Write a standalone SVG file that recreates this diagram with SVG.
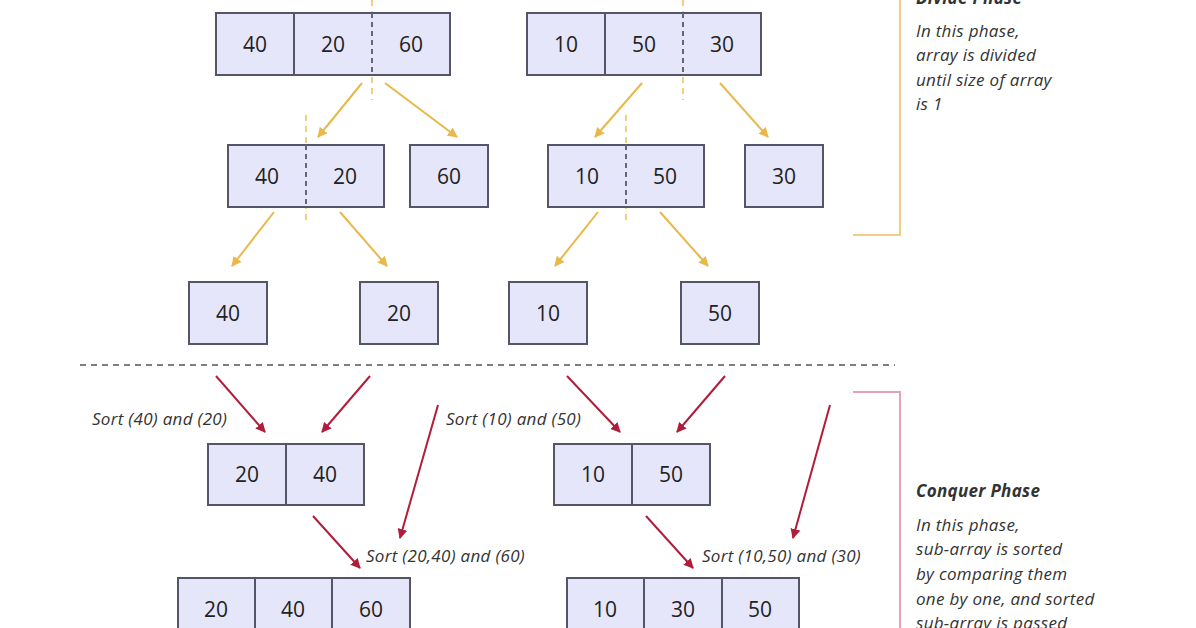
<svg xmlns="http://www.w3.org/2000/svg" width="1196" height="628" viewBox="0 0 1196 628">
<defs>
<style>
.c{fill:#e6e6fa;stroke:#555566;stroke-width:2}
.d{stroke:#555566;stroke-width:2}
.dd{stroke:#666677;stroke-width:2;stroke-dasharray:5,4}
.n{font-family:"Open Sans",sans-serif;font-size:21px;fill:#222;text-anchor:middle}
.y{stroke:#e8b84a;stroke-width:2;fill:none}
.yd{stroke:#f0d080;stroke-width:2;stroke-dasharray:6,5}
.r{stroke:#b01c3a;stroke-width:2;fill:none}
.l{font-family:"Open Sans",sans-serif;font-size:17px;letter-spacing:0.3px;font-style:italic;fill:#333}
.b{font-weight:bold}
</style>
<marker id="ay" viewBox="0 0 10 10" refX="9" refY="5" markerWidth="5" markerHeight="5" orient="auto"><path d="M0,0L10,5L0,10z" fill="#e8b84a"/></marker>
<marker id="ar" viewBox="0 0 10 10" refX="9" refY="5" markerWidth="5" markerHeight="5" orient="auto"><path d="M0,0L10,5L0,10z" fill="#b01c3a"/></marker>
</defs>
<rect width="1196" height="628" fill="#fff"/>
<g id="guides">
<line class="yd" x1="372" y1="0" x2="372" y2="100"/>
<line class="yd" x1="683" y1="0" x2="683" y2="100"/>
<line class="yd" x1="306" y1="115" x2="306" y2="225"/>
<line class="yd" x1="626" y1="115" x2="626" y2="225"/>
<line x1="80" y1="365" x2="895" y2="365" stroke="#555" stroke-width="1.5" stroke-dasharray="6,5"/>
<path d="M900 0V235H853" stroke="#f0d080" stroke-width="2" fill="none"/>
<path d="M853 392H900V628" stroke="#e8a0b8" stroke-width="2" fill="none"/>
</g>
<g id="connectors">
<line class="y" x1="362" y1="83" x2="318" y2="137" marker-end="url(#ay)"/>
<line class="y" x1="385" y1="83" x2="457" y2="137" marker-end="url(#ay)"/>
<line class="y" x1="642" y1="83" x2="595" y2="137" marker-end="url(#ay)"/>
<line class="y" x1="720" y1="83" x2="768" y2="137" marker-end="url(#ay)"/>
<line class="y" x1="274" y1="212" x2="232" y2="266" marker-end="url(#ay)"/>
<line class="y" x1="340" y1="212" x2="387" y2="266" marker-end="url(#ay)"/>
<line class="y" x1="598" y1="212" x2="555" y2="266" marker-end="url(#ay)"/>
<line class="y" x1="660" y1="212" x2="708" y2="266" marker-end="url(#ay)"/>
<line class="r" x1="216" y1="376" x2="265" y2="432" marker-end="url(#ar)"/>
<line class="r" x1="370" y1="376" x2="322" y2="432" marker-end="url(#ar)"/>
<line class="r" x1="567" y1="376" x2="620" y2="432" marker-end="url(#ar)"/>
<line class="r" x1="725" y1="376" x2="677" y2="432" marker-end="url(#ar)"/>
<line class="r" x1="438" y1="405" x2="400" y2="538" marker-end="url(#ar)"/>
<line class="r" x1="313" y1="516" x2="360" y2="568" marker-end="url(#ar)"/>
<line class="r" x1="830" y1="405" x2="793" y2="538" marker-end="url(#ar)"/>
<line class="r" x1="646" y1="516" x2="693" y2="568" marker-end="url(#ar)"/>
</g>
<g id="labels">
<text class="l" x="92" y="425">Sort (40) and (20)</text>
<text class="l" x="446" y="425">Sort (10) and (50)</text>
<text class="l" x="366" y="562">Sort (20,40) and (60)</text>
<text class="l" x="702" y="562">Sort (10,50) and (30)</text>
<text class="l b" x="916" y="4">Divide Phase</text>
<text class="l" x="916" y="37">In this phase,</text>
<text class="l" x="916" y="61">array is divided</text>
<text class="l" x="916" y="86">until size of array</text>
<text class="l" x="916" y="110">is 1</text>
<text class="l b" x="916" y="497">Conquer Phase</text>
<text class="l" x="916" y="531">In this phase,</text>
<text class="l" x="916" y="555">sub-array is sorted</text>
<text class="l" x="916" y="580">by comparing them</text>
<text class="l" x="916" y="605">one by one, and sorted</text>
<text class="l" x="916" y="629">sub-array is passed</text>
</g>
<g id="n1"><rect class="c" x="216" y="13" width="234" height="62"/><line class="d" x1="294" y1="13" x2="294" y2="75"/><line class="dd" x1="372" y1="13" x2="372" y2="75"/><text class="n" x="255" y="52">40</text><text class="n" x="333" y="52">20</text><text class="n" x="411" y="52">60</text></g>
<g id="n2"><rect class="c" x="527" y="13" width="234" height="62"/><line class="d" x1="605" y1="13" x2="605" y2="75"/><line class="dd" x1="683" y1="13" x2="683" y2="75"/><text class="n" x="566" y="52">10</text><text class="n" x="644" y="52">50</text><text class="n" x="722" y="52">30</text></g>
<g id="n3"><rect class="c" x="228" y="145" width="156" height="62"/><line class="dd" x1="306" y1="145" x2="306" y2="207"/><text class="n" x="267" y="184">40</text><text class="n" x="345" y="184">20</text></g>
<g id="n4"><rect class="c" x="410" y="145" width="78" height="62"/><text class="n" x="449" y="184">60</text></g>
<g id="n5"><rect class="c" x="548" y="145" width="156" height="62"/><line class="dd" x1="626" y1="145" x2="626" y2="207"/><text class="n" x="587" y="184">10</text><text class="n" x="665" y="184">50</text></g>
<g id="n6"><rect class="c" x="745" y="145" width="78" height="62"/><text class="n" x="784" y="184">30</text></g>
<g id="n7"><rect class="c" x="189" y="282" width="78" height="62"/><text class="n" x="228" y="321">40</text></g>
<g id="n8"><rect class="c" x="360" y="282" width="78" height="62"/><text class="n" x="399" y="321">20</text></g>
<g id="n9"><rect class="c" x="509" y="282" width="78" height="62"/><text class="n" x="548" y="321">10</text></g>
<g id="n10"><rect class="c" x="681" y="282" width="78" height="62"/><text class="n" x="720" y="321">50</text></g>
<g id="n11"><rect class="c" x="208" y="444" width="156" height="61"/><line class="d" x1="286" y1="444" x2="286" y2="505"/><text class="n" x="247" y="482">20</text><text class="n" x="325" y="482">40</text></g>
<g id="n12"><rect class="c" x="554" y="444" width="156" height="61"/><line class="d" x1="632" y1="444" x2="632" y2="505"/><text class="n" x="593" y="482">10</text><text class="n" x="671" y="482">50</text></g>
<g id="n13"><rect class="c" x="178" y="578" width="232" height="62"/><line class="d" x1="255" y1="578" x2="255" y2="640"/><line class="d" x1="332" y1="578" x2="332" y2="640"/><text class="n" x="216" y="617">20</text><text class="n" x="293" y="617">40</text><text class="n" x="371" y="617">60</text></g>
<g id="n14"><rect class="c" x="567" y="578" width="232" height="62"/><line class="d" x1="644" y1="578" x2="644" y2="640"/><line class="d" x1="722" y1="578" x2="722" y2="640"/><text class="n" x="605" y="617">10</text><text class="n" x="683" y="617">30</text><text class="n" x="760" y="617">50</text></g>
</svg>
